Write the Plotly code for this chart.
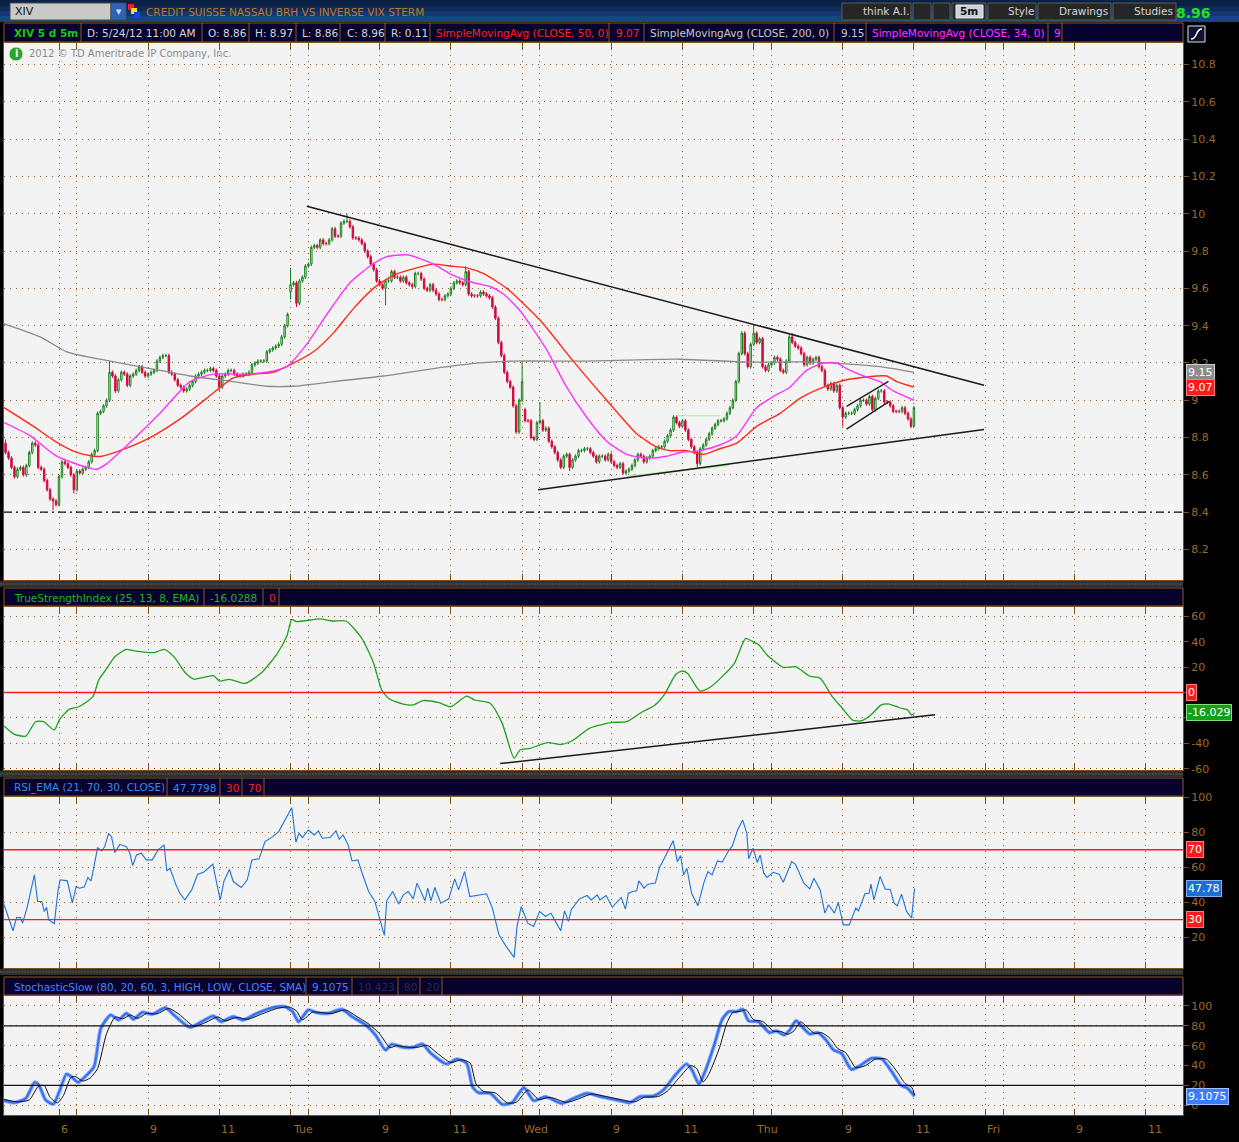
import plotly.graph_objects as go

W, H = 1239, 1142
FONT = "DejaVu Sans"

# 5-minute bars, bar 0 = Monday session open, 78 bars per session
first_bar = -18
bar_open = [
    8.77, 8.72, 8.69, 8.64, 8.59, 8.63, 8.64, 8.60, 8.65, 8.72,
    8.77, 8.76, 8.64, 8.63, 8.57, 8.52, 8.47, 8.46, 8.44, 8.59,
    8.67, 8.66, 8.64, 8.60, 8.52, 8.62, 8.61, 8.63, 8.64, 8.67,
    8.71, 8.73, 8.93, 8.94, 8.97, 9.00, 9.15, 9.13, 9.05, 9.11,
    9.15, 9.14, 9.08, 9.13, 9.14, 9.16, 9.18, 9.15, 9.13, 9.14,
    9.15, 9.16, 9.21, 9.23, 9.24, 9.24, 9.15, 9.14, 9.11, 9.08,
    9.07, 9.05, 9.06, 9.08, 9.10, 9.13, 9.14, 9.15, 9.16, 9.16,
    9.17, 9.16, 9.13, 9.07, 9.13, 9.14, 9.16, 9.16, 9.14, 9.13,
    9.13, 9.14, 9.14, 9.15, 9.19, 9.20, 9.21, 9.21, 9.21, 9.26,
    9.27, 9.28, 9.29, 9.30, 9.34, 9.40, 9.58, 9.62, 9.63, 9.52,
    9.64, 9.66, 9.72, 9.73, 9.82, 9.83, 9.82, 9.86, 9.84, 9.84,
    9.86, 9.92, 9.88, 9.88, 9.95, 9.96, 9.96, 9.93, 9.87, 9.87,
    9.86, 9.84, 9.80, 9.77, 9.73, 9.70, 9.64, 9.62, 9.60, 9.64,
    9.64, 9.69, 9.66, 9.66, 9.64, 9.66, 9.63, 9.62, 9.61, 9.68,
    9.68, 9.65, 9.60, 9.59, 9.62, 9.59, 9.57, 9.54, 9.54, 9.56,
    9.57, 9.60, 9.63, 9.64, 9.63, 9.62, 9.69, 9.57, 9.56, 9.56,
    9.56, 9.58, 9.57, 9.56, 9.55, 9.50, 9.44, 9.31, 9.24, 9.15,
    9.10, 9.07, 8.97, 8.83, 9.00, 8.95, 8.89, 8.89, 8.80, 8.79,
    8.88, 8.89, 8.84, 8.85, 8.78, 8.75, 8.72, 8.68, 8.64, 8.70,
    8.71, 8.64, 8.68, 8.70, 8.73, 8.73, 8.74, 8.74, 8.72, 8.70,
    8.67, 8.70, 8.70, 8.68, 8.71, 8.67, 8.65, 8.64, 8.66, 8.61,
    8.62, 8.63, 8.65, 8.68, 8.71, 8.70, 8.67, 8.69, 8.70, 8.73,
    8.74, 8.75, 8.75, 8.78, 8.81, 8.84, 8.91, 8.88, 8.86, 8.89,
    8.84, 8.79, 8.75, 8.72, 8.66, 8.74, 8.76, 8.79, 8.82, 8.85,
    8.87, 8.89, 8.89, 8.90, 8.93, 8.96, 9.00, 9.10, 9.25, 9.36,
    9.25, 9.18, 9.30, 9.36, 9.31, 9.33, 9.18, 9.16, 9.19, 9.20,
    9.23, 9.22, 9.16, 9.15, 9.21, 9.34, 9.31, 9.29, 9.28, 9.25,
    9.19, 9.23, 9.20, 9.22, 9.23, 9.18, 9.16, 9.08, 9.06, 9.09,
    9.05, 9.08, 8.96, 8.91, 8.93, 8.93, 8.93, 8.95, 8.97, 9.00,
    9.00, 8.98, 9.02, 8.95, 9.01, 9.05, 9.05, 8.99, 8.99, 8.97,
    8.94, 8.94, 8.94, 8.96, 8.93, 8.90, 8.86,
]
bar_close = [
    8.72, 8.69, 8.64, 8.59, 8.63, 8.64, 8.60, 8.65, 8.72, 8.77,
    8.76, 8.64, 8.63, 8.57, 8.52, 8.47, 8.46, 8.44, 8.59, 8.67,
    8.66, 8.64, 8.60, 8.52, 8.62, 8.61, 8.63, 8.64, 8.67, 8.71,
    8.73, 8.93, 8.94, 8.97, 9.00, 9.15, 9.13, 9.05, 9.11, 9.15,
    9.14, 9.08, 9.13, 9.14, 9.16, 9.18, 9.15, 9.13, 9.14, 9.15,
    9.16, 9.21, 9.23, 9.24, 9.24, 9.15, 9.14, 9.11, 9.08, 9.07,
    9.05, 9.06, 9.08, 9.10, 9.13, 9.14, 9.15, 9.16, 9.16, 9.17,
    9.16, 9.13, 9.07, 9.13, 9.14, 9.16, 9.16, 9.14, 9.13, 9.13,
    9.14, 9.14, 9.15, 9.19, 9.20, 9.21, 9.21, 9.21, 9.26, 9.27,
    9.28, 9.29, 9.30, 9.34, 9.40, 9.46, 9.62, 9.63, 9.52, 9.64,
    9.66, 9.72, 9.73, 9.82, 9.83, 9.82, 9.86, 9.84, 9.84, 9.86,
    9.92, 9.88, 9.88, 9.95, 9.96, 9.96, 9.93, 9.87, 9.87, 9.86,
    9.84, 9.80, 9.77, 9.73, 9.70, 9.64, 9.62, 9.60, 9.64, 9.64,
    9.69, 9.66, 9.66, 9.64, 9.66, 9.63, 9.62, 9.61, 9.68, 9.68,
    9.65, 9.60, 9.59, 9.62, 9.59, 9.57, 9.54, 9.54, 9.56, 9.57,
    9.60, 9.63, 9.64, 9.63, 9.62, 9.69, 9.57, 9.56, 9.56, 9.56,
    9.58, 9.57, 9.56, 9.55, 9.50, 9.44, 9.31, 9.24, 9.15, 9.10,
    9.07, 8.97, 8.83, 9.00, 9.10, 8.89, 8.89, 8.80, 8.79, 8.88,
    8.89, 8.84, 8.85, 8.78, 8.75, 8.72, 8.68, 8.64, 8.70, 8.71,
    8.64, 8.68, 8.70, 8.73, 8.73, 8.74, 8.74, 8.72, 8.70, 8.67,
    8.70, 8.70, 8.68, 8.71, 8.67, 8.65, 8.64, 8.66, 8.61, 8.62,
    8.63, 8.65, 8.68, 8.71, 8.70, 8.67, 8.69, 8.70, 8.73, 8.74,
    8.75, 8.75, 8.78, 8.81, 8.84, 8.91, 8.88, 8.86, 8.89, 8.84,
    8.79, 8.75, 8.72, 8.66, 8.74, 8.76, 8.79, 8.82, 8.85, 8.87,
    8.89, 8.89, 8.90, 8.93, 8.96, 9.00, 9.10, 9.25, 9.36, 9.25,
    9.18, 9.30, 9.36, 9.31, 9.33, 9.18, 9.16, 9.19, 9.20, 9.23,
    9.22, 9.16, 9.15, 9.21, 9.34, 9.31, 9.29, 9.28, 9.25, 9.19,
    9.23, 9.20, 9.22, 9.23, 9.18, 9.16, 9.08, 9.06, 9.09, 9.05,
    9.08, 8.96, 8.91, 8.93, 8.93, 8.93, 8.95, 8.97, 9.00, 9.00,
    8.98, 9.02, 8.95, 9.01, 9.05, 9.05, 8.99, 8.99, 8.97, 8.94,
    8.94, 8.94, 8.96, 8.93, 8.90, 8.86, 8.96,
]
# wick length beyond the body, in cents
wick_up = [
    2, 1, 1, 1, 1, 1, 1, 1, 1, 1,
    1, 1, 1, 1, 1, 1, 1, 1, 1, 1,
    1, 1, 1, 1, 1, 1, 1, 1, 1, 1,
    1, 1, 1, 1, 1, 6, 1, 1, 1, 1,
    1, 1, 1, 1, 1, 1, 1, 1, 1, 1,
    1, 1, 1, 1, 1, 1, 1, 1, 1, 1,
    1, 1, 1, 1, 1, 1, 1, 1, 1, 1,
    1, 1, 1, 1, 1, 1, 1, 1, 1, 1,
    1, 1, 1, 1, 1, 1, 1, 1, 1, 1,
    1, 1, 1, 1, 1, 1, 9, 1, 1, 1,
    1, 1, 1, 1, 1, 1, 1, 1, 1, 1,
    1, 1, 1, 1, 1, 4, 1, 1, 1, 1,
    1, 1, 1, 1, 1, 1, 1, 1, 1, 1,
    1, 1, 1, 1, 1, 1, 1, 1, 1, 1,
    1, 1, 1, 1, 1, 1, 1, 1, 1, 1,
    1, 1, 1, 1, 1, 3, 1, 1, 1, 1,
    1, 1, 1, 1, 1, 1, 1, 1, 1, 1,
    1, 1, 1, 1, 11, 1, 1, 1, 1, 1,
    10, 1, 1, 1, 1, 1, 1, 1, 1, 1,
    1, 1, 1, 1, 1, 1, 1, 1, 1, 1,
    1, 1, 1, 1, 1, 1, 1, 1, 1, 1,
    1, 1, 1, 1, 1, 1, 1, 1, 1, 1,
    1, 1, 1, 1, 1, 1, 1, 1, 1, 1,
    1, 1, 1, 1, 1, 1, 1, 1, 1, 1,
    1, 1, 1, 1, 1, 1, 1, 1, 1, 1,
    1, 1, 4, 1, 1, 1, 1, 1, 1, 1,
    1, 1, 1, 1, 1, 2, 1, 1, 1, 1,
    1, 1, 1, 1, 1, 1, 1, 1, 1, 1,
    1, 1, 1, 1, 1, 1, 1, 1, 1, 1,
    1, 1, 1, 1, 1, 1, 1, 1, 1, 1,
    1, 1, 1, 1, 1, 1, 1,
]
wick_dn = [
    1, 1, 1, 1, 1, 1, 1, 1, 1, 1,
    1, 1, 1, 1, 1, 1, 5, 1, 1, 1,
    1, 1, 1, 2, 1, 1, 1, 1, 1, 1,
    1, 1, 1, 1, 1, 1, 1, 1, 1, 1,
    1, 1, 1, 1, 1, 1, 1, 1, 1, 1,
    1, 1, 1, 1, 1, 1, 1, 1, 1, 1,
    1, 1, 1, 1, 1, 1, 1, 1, 1, 1,
    1, 1, 2, 1, 1, 1, 1, 1, 1, 1,
    1, 1, 1, 1, 1, 1, 1, 1, 1, 1,
    1, 1, 1, 1, 1, 1, 4, 1, 2, 1,
    1, 1, 1, 1, 1, 1, 1, 1, 1, 1,
    1, 1, 1, 1, 1, 1, 1, 1, 1, 1,
    1, 1, 1, 1, 1, 1, 1, 1, 9, 1,
    1, 1, 1, 1, 1, 1, 1, 1, 1, 1,
    1, 1, 1, 1, 1, 1, 1, 1, 1, 1,
    1, 1, 1, 1, 1, 1, 1, 1, 1, 1,
    1, 1, 1, 1, 1, 1, 1, 1, 1, 1,
    1, 1, 1, 1, 1, 1, 1, 1, 1, 1,
    1, 1, 1, 1, 1, 1, 1, 1, 1, 1,
    2, 1, 1, 1, 1, 1, 1, 1, 1, 1,
    1, 1, 1, 1, 1, 1, 1, 1, 1, 1,
    1, 1, 1, 1, 1, 1, 1, 1, 1, 1,
    1, 1, 1, 1, 1, 1, 1, 1, 1, 1,
    1, 1, 1, 2, 1, 1, 1, 1, 1, 1,
    1, 1, 1, 1, 1, 1, 1, 1, 1, 1,
    1, 1, 1, 1, 1, 1, 1, 1, 1, 1,
    1, 1, 1, 1, 1, 1, 1, 1, 1, 1,
    1, 1, 1, 1, 1, 1, 1, 1, 1, 1,
    1, 1, 5, 1, 1, 1, 1, 1, 1, 1,
    1, 1, 1, 1, 1, 1, 1, 1, 1, 1,
    1, 1, 1, 1, 1, 1, 0,
]

# moving averages (bar, value)
sma50_bar = [-18.5, -8.6, -1.3, 6, 11.6, 14.4, 20.5, 30.7, 40.8, 49.7,
             58.7, 65.5, 72.2, 77.8, 85.7, 92.4, 99.1, 105.9, 112.6, 120.5,
             126.1, 131.7, 137.3, 142.9, 150.8, 162, 173.2, 184.5, 194.6, 201.3,
             205.8, 211.4, 217, 222.6, 228.3, 235, 242.9, 249.6, 257.5, 265.3,
             275.4, 278.8, 282.2, 288]
sma50 = [8.96, 8.86, 8.78, 8.72, 8.70, 8.70, 8.73, 8.80, 8.90, 9.01,
         9.12, 9.14, 9.15, 9.19, 9.26, 9.36, 9.49, 9.60, 9.67, 9.71,
         9.73, 9.72, 9.71, 9.68, 9.60, 9.43, 9.21, 9.00, 8.82, 8.75,
         8.73, 8.73, 8.71, 8.74, 8.77, 8.86, 8.93, 9.01, 9.07, 9.11,
         9.13, 9.13, 9.10, 9.07]
sma34_bar = [-18.5, -9.8, -0.8, 9.3, 12.7, 16.1, 25, 34, 44.1, 52,
             61, 70, 76.7, 83.4, 90.2, 98, 104.8, 110.4, 117.1, 121.6,
             126.1, 132.8, 139.6, 145.2, 149.7, 155.3, 164.3, 171, 177.7, 184.5,
             191.2, 197.9, 204.7, 209.2, 215.9, 222.6, 228.3, 235, 240.6, 246.2,
             251.8, 257.5, 261.9, 265.3, 271, 276.5, 281, 288]
sma34 = [8.88, 8.81, 8.70, 8.64, 8.63, 8.66, 8.79, 8.93, 9.10, 9.14,
         9.14, 9.15, 9.18, 9.30, 9.46, 9.63, 9.72, 9.77, 9.78, 9.76,
         9.73, 9.67, 9.63, 9.61, 9.57, 9.48, 9.27, 9.07, 8.91, 8.78,
         8.71, 8.69, 8.70, 8.72, 8.73, 8.76, 8.81, 8.96, 9.02, 9.07,
         9.16, 9.20, 9.20, 9.17, 9.13, 9.10, 9.05, 9.00]
sma200_bar = [-18.5, -6.4, 2.6, 17.2, 30.7, 44.1, 58.7, 70, 78.9, 92.4,
              109.3, 126.1, 141.8, 153, 175.5, 209.2, 231.6, 254.1, 265.3, 276.5, 288]
sma200 = [9.41, 9.34, 9.26, 9.21, 9.17, 9.13, 9.10, 9.075, 9.075, 9.10,
          9.13, 9.17, 9.20, 9.21, 9.21, 9.22, 9.205, 9.205, 9.195, 9.18, 9.15]

# drawings on the price panel
upper_trend_bar = [83.5, 311.6]
upper_trend = [10.04, 9.08]
lower_trend_bar = [161.4, 311.6]
lower_trend = [8.52, 8.843]
flag_top_bar = [265.3, 279.4]
flag_top = [8.967, 9.101]
flag_bottom_bar = [265.3, 279.7]
flag_bottom = [8.845, 8.994]
green_level_bar = [208, 222.7]
green_level = [8.917, 8.917]
green_support_bar = [191.2, 225.5]
green_support = [8.59, 8.653]
alert_price = 8.4

# True Strength Index
tsi_bar = [-18.5, -15.2, -11.2, -7.9, -5.2, -1.6, 0.1, 3.4, 6.7, 11.4,
           13.4, 16.1, 18.8, 22.7, 25.4, 32.1, 35.4, 38.7, 42.7, 45.4,
           52, 54.1, 57.4, 62.7, 68, 73.4, 76.7, 78.4, 80, 88,
           92, 96.7, 102, 106, 108.7, 111.3, 116, 119.3, 122.6, 128,
           132, 137.3, 140, 145.3, 149.3, 153.3, 155.3, 158.6, 164.6, 169.3,
           173.3, 178.6, 182.2, 186.4, 191.2, 196, 200.8, 204.2, 207.6, 209.7,
           211.7, 215.9, 219.3, 223.4, 227.5, 231.3, 233.7, 235.8, 238.5, 244,
           248.1, 252.9, 256.4, 260.5, 263.9, 267.3, 270.1, 273.5, 277, 279.7,
           283.1, 285.9, 287.2, 288.2]
tsi = [-26.4, -32.7, -34.3, -23, -23, -29.5, -21.6, -13.3, -11.2, -3.3,
       9.9, 19, 28.2, 34, 32.7, 31.4, 34, 28.2, 15.1, 10.6,
       13.3, 9, 10.4, 7.2, 15.1, 30.3, 44, 57.6, 55.8, 57.9,
       56.3, 56.3, 42.6, 22.9, 2, -5.1, -9.1, -9.8, -6.4, -8,
       -11.2, -2.8, -5.9, -8.6, -24.3, -51.8, -45.3, -44, -39.5, -40.9,
       -37.4, -28.2, -25.6, -23.5, -23, -15.9, -9.8, -0.7, 13.8, 16.9,
       15.1, 1.2, 4.1, 12.5, 23, 42.6, 40, 37.4, 29.5, 19.8,
       20.3, 12.9, 11.2, -3.3, -12.5, -21.7, -22.4, -17.7, -9.8, -9.1,
       -12, -13.8, -17.7, -16.0288]
tsi_trend_bar = [148.6, 295.1]
tsi_trend = [-55.9, -17.6]

# RSI_EMA(21)
rsi_bar = [-18.5, -15.5, -14.3, -13, -12.3, -10.8, -8.3, -7.2, -5.8, -5,
           -4.2, -3.5, -1.6, -0.3, 0.4, 2.8, 4.5, 5.8, 6.8, 8.5,
           9.7, 10.8, 11.7, 13, 14.4, 15.4, 16.7, 17.7, 18.8, 20.5,
           22.7, 23.8, 24.8, 26.1, 27.7, 29.4, 31.4, 33.4, 35.4, 36.3,
           37.4, 39.4, 40.7, 42.4, 44.7, 46.7, 48.7, 51.8, 54.3, 55.6,
           57.4, 58.7, 61.4, 63.4, 65, 67.4, 69.4, 72, 74, 76,
           78.4, 79.8, 80.8, 82, 84, 86, 87.4, 88.7, 91.3, 93.3,
           94.4, 95.7, 97.4, 98.7, 100.7, 102, 104.3, 106.4, 108, 109.6,
           110.4, 112.4, 114.4, 116, 117.6, 119.3, 120.6, 123.3, 124.2, 125.3,
           126.6, 128.6, 131.3, 133.3, 134.6, 136.6, 138.4, 141.3, 144, 146,
           148.2, 150.6, 153.3, 154.3, 155.7, 157.9, 159.9, 161.9, 163.9, 165.7,
           169, 170.3, 171.6, 172.6, 175.3, 177.9, 179.3, 181.3, 182.2, 184.3,
           186.4, 187.8, 189.4, 190.8, 191.8, 193.2, 194.6, 195.3, 197.1, 198.4,
           200.1, 200.9, 202.2, 203.5, 204.9, 206.9, 208.3, 209.4, 210.4, 211.5,
           213.1, 215.2, 217.2, 218.6, 220, 221.8, 223.4, 225.5, 226.8, 228.6,
           230.3, 231.7, 232.3, 233.8, 235.2, 236.2, 237.4, 238.5, 240.6, 242.6,
           244, 246.8, 248.1, 250.9, 252.9, 254.3, 256.4, 258, 259.2, 261.2,
           262.5, 264.2, 266.2, 268.4, 269.3, 271.5, 272.9, 273.5, 274.5, 276.6,
           278.3, 280, 281.3, 282.4, 283.8, 285.5, 287.2, 288.2]
rsi = [38.5, 23.6, 31.2, 31.2, 28, 36.6, 55.6, 40.4, 40.4, 34.7,
       37, 29.9, 27.6, 47, 52.8, 52.2, 39.6, 49, 48, 48.6,
       54.1, 52.2, 59.8, 71.2, 69.3, 71.8, 79.4, 77.5, 68.4, 73.1,
       71.8, 68.4, 61, 67, 68, 64.2, 64.2, 69.9, 72.8, 57.9,
       59.4, 49.9, 45.1, 41.3, 47, 56, 57.1, 61.7, 41.3, 52.2,
       58.7, 51.8, 48.4, 52.8, 64.2, 64.8, 74.7, 77.5, 80.4, 87,
       94.1, 74.3, 79.4, 77, 81.3, 78.5, 80.8, 76.6, 77, 80.8,
       76, 78.5, 72.8, 63.6, 64.2, 57.1, 46.1, 40.4, 30.9, 21,
       40.8, 46.1, 38.9, 44.2, 46.1, 41.9, 50.9, 40.8, 48, 40.8,
       48.4, 39.4, 41.9, 53.3, 47, 57.5, 43.2, 44.2, 44.8, 36.6,
       21.3, 14.7, 8.4, 26.1, 37.5, 28, 26.1, 34.7, 31.8, 33.7,
       23.6, 35, 29, 35.8, 41.9, 43.8, 41.3, 44.2, 41.3, 43.8,
       37, 39.8, 42.7, 36, 45.1, 46.1, 46.5, 52.2, 48, 50.3,
       50.9, 50.9, 59.4, 63.6, 69, 75.2, 63.2, 66.7, 55.6, 59.4,
       45.1, 37.9, 50.9, 57.5, 55.6, 63.6, 62.9, 69.3, 72.2, 81.3,
       87, 79.4, 64.8, 70.9, 62.7, 67, 56.6, 54.1, 57.1, 56,
       51.4, 63.2, 61.7, 50.9, 47.6, 53.7, 47, 33.7, 38.5, 33.7,
       39.8, 27, 27, 36.6, 35, 44.8, 45.1, 50.3, 41.3, 54.7,
       47.4, 47.4, 39.4, 37.9, 44.6, 34.7, 30.9, 47.7798]
rsi_levels = [70, 30]

# StochasticSlow %K (blue) and %D (black)
stoch_k_bar = [-18.5, -15.2, -11.2, -8.2, -6.8, -4.5, -1.9, 0.1, 2.5, 4.1,
               6.4, 8.8, 11.8, 14.1, 17.4, 20.1, 22.7, 25.1, 28.1, 31.4,
               35.8, 38.7, 44.1, 48.1, 52, 54.7, 58.7, 62, 66.7, 72,
               76, 78.7, 80.7, 84, 86.7, 90.7, 95.3, 98.7, 103.3, 106.6,
               110, 112, 116, 119.3, 122.4, 125.3, 130.6, 134, 137.3, 139.3,
               141.3, 145.3, 149.3, 152.6, 156.6, 159.9, 163.9, 169.3, 173.3, 177.9,
               182.6, 189, 192.3, 195.6, 200.3, 203.6, 207.6, 211.4, 213.2, 215.6,
               217.6, 220.9, 223.3, 225.6, 228.3, 230.3, 232.3, 235.6, 239.3, 241.6,
               244.2, 246.2, 248.3, 250.3, 252.9, 255.6, 258.2, 260.9, 263.6, 266.9,
               270.2, 273.6, 277.2, 280.9, 283.5, 285.9, 288.2]
stoch_k = [4.7, 2.7, 7, 23.2, 20.5, 5.4, 1.3, 13.8, 31.5, 28.9,
           23.2, 28.9, 38.9, 77.5, 90.9, 85.9, 92.6, 86.6, 93.6, 91.6,
           98.3, 90.9, 78.5, 84.2, 89.9, 84.2, 89.3, 85.9, 92.6, 98.3,
           99.3, 94.3, 84.2, 96, 93.3, 92.6, 96.6, 89.3, 80.9, 70.8,
           55.7, 61.4, 58.4, 58.4, 61.7, 52.3, 41.6, 46.6, 42.3, 18.8,
           12.8, 12.1, 1, 2.7, 17.8, 4.7, 8.7, 2, 7, 12.1,
           8.7, 4.7, 2.7, 8.7, 9.4, 15.4, 30.5, 41.6, 35.6, 21.5,
           33.9, 62.4, 85.9, 94.3, 94.3, 96.6, 84.9, 84.2, 73.2, 74.8,
           70.8, 75.8, 85.2, 79.2, 71.8, 73.2, 66.4, 55.7, 52.3, 36.2,
           40.6, 47.3, 46.6, 32.2, 20.5, 17.1, 9.1075]
stoch_d_bar = [-18.5, -14, -10, -7, -5, -3, -0.5, 1.5, 4, 5.5,
               8, 10.5, 13, 16, 19, 21.5, 24, 26.5, 29.5, 33,
               37, 40.5, 45.5, 49.5, 53.5, 56, 60, 63.5, 68, 73.5,
               77.5, 80, 82, 85.5, 88, 92, 96.5, 100, 104.5, 108,
               111.5, 113.5, 117.5, 121, 124, 127, 132, 135.5, 138.5, 140.5,
               143, 147, 151, 154, 158, 161.5, 165.5, 171, 175, 179.5,
               184, 190.5, 194, 197, 202, 205, 209, 212.8, 214.8, 217,
               219, 222.5, 225, 227, 229.5, 231.5, 234, 237, 240.8, 243,
               245.6, 247.6, 249.8, 251.8, 254.4, 257, 259.7, 262.4, 265, 268.4,
               271.7, 275, 278.7, 282.4, 285, 287.3, 288.2]
stoch_d = [6, 3.5, 5.5, 19, 20, 8, 2.5, 10, 28, 29,
           24.5, 27.5, 37, 72, 89, 87, 91, 87.5, 92.5, 92,
           97.5, 91.5, 79.5, 83.5, 89, 85, 88.5, 86.5, 91.5, 97.5,
           99, 95, 86, 94, 93.5, 92.5, 96, 90, 81.5, 72,
           58, 60, 58.5, 58.5, 60.5, 53.5, 43, 46, 42.5, 21.5,
           14, 12.5, 2.5, 3, 15.5, 6, 8, 3, 6.5, 11.5,
           9, 5, 3.5, 8, 9, 14.5, 28, 40, 37, 23.5,
           32, 58, 83, 93.5, 94.5, 96, 86, 84.5, 74.5, 74.5,
           71.5, 75, 84, 79.5, 72.5, 73, 67.5, 57, 53, 38,
           40, 46.5, 46.5, 33.5, 22, 18, 10.423]
stoch_levels = [80, 20]

# time axis
grid_bars = [0, 6, 30, 54, 78, 84, 108, 132, 156, 162, 186, 210,
             234, 240, 264, 288, 312, 318, 342, 366]
label_bars = [0, 30, 54, 78, 108, 132, 156, 186, 210, 234, 264, 288, 312, 342, 366]
label_text = ["6", "9", "11", "Tue", "9", "11", "Wed", "9", "11", "Thu",
              "9", "11", "Fri", "9", "11"]
price_ticks = [8.2, 8.4, 8.6, 8.8, 9.0, 9.2, 9.4, 9.6, 9.8, 10.0, 10.2, 10.4, 10.6, 10.8]
tsi_ticks = [-60, -40, -20, 0, 20, 40, 60]
tsi_tick_text = ["-60", "-40", "", "", "20", "40", "60"]   # 0 and -20 sit under badges
rsi_ticks = [20, 40, 60, 80, 100]
stoch_ticks = [0, 20, 40, 60, 80, 100]

bars = list(range(first_bar, first_bar + len(bar_close)))
bar_high = [max(o, c) + u / 100 for o, c, u in zip(bar_open, bar_close, wick_up)]
bar_low = [min(o, c) - d / 100 for o, c, d in zip(bar_open, bar_close, wick_dn)]


def px_x(x):
    return x / W


def px_y(y):
    return 1 - y / H


shapes = []
annotations = []


def box(x0, y0, x1, y1, fill, line=None, width=1):
    shapes.append(dict(type="rect", xref="paper", yref="paper",
                       x0=px_x(x0), x1=px_x(x1), y0=px_y(y1), y1=px_y(y0),
                       fillcolor=fill, layer="above",
                       line=dict(color=line or fill, width=width if line else 0)))


def text(x, y, s, color, size=10.5, bold=False, anchor="left", family=FONT):
    annotations.append(dict(xref="paper", yref="paper", x=px_x(x), y=px_y(y),
                            text=f"<b>{s}</b>" if bold else s, showarrow=False,
                            xanchor=anchor, yanchor="middle",
                            font=dict(color=color, size=size, family=family)))


def badge(yref, value, s, fill, edge):
    annotations.append(dict(xref="paper", yref=yref, x=px_x(1186), y=value,
                            text=s, showarrow=False, xanchor="left", yanchor="middle",
                            bgcolor=fill, bordercolor=edge, borderwidth=1, borderpad=1,
                            font=dict(color="white", size=11, family=FONT)))


def hline(yref, value, color, dash="solid", width=1):
    shapes.append(dict(type="line", xref="x domain", yref=yref, x0=0, x1=1,
                       y0=value, y1=value, layer="above",
                       line=dict(color=color, width=width, dash=dash)))


def header(y0, y1, seps, items):
    box(4, y0, 1183, y1, "#07012e", "#8b5a1e")
    for s in seps:
        shapes.append(dict(type="line", xref="paper", yref="paper",
                           x0=px_x(s), x1=px_x(s), y0=px_y(y0), y1=px_y(y1),
                           line=dict(color="#8b5a1e", width=1)))
    for x, s, color, bold in items:
        text(x, (y0 + y1) / 2 + 0.5, s, color, bold=bold)


fig = go.Figure()

fig.add_trace(go.Candlestick(
    x=bars, open=bar_open, high=bar_high, low=bar_low, close=bar_close,
    increasing=dict(line=dict(color="#16801a", width=1), fillcolor="#f3f3f3"),
    decreasing=dict(line=dict(color="#cf0c3e", width=1), fillcolor="#cf0c3e"),
    whiskerwidth=0, xaxis="x", yaxis="y"))


def line(xs, ys, color, width=1.3, axis=("x", "y"), shape="linear"):
    fig.add_trace(go.Scatter(x=xs, y=ys, mode="lines", xaxis=axis[0], yaxis=axis[1],
                             line=dict(color=color, width=width, shape=shape,
                                       smoothing=0.6 if shape == "spline" else None)))


line(sma200_bar, sma200, "#8a8a8a", 1.3, shape="spline")
line(sma50_bar, sma50, "#ff2a1a", 1.4, shape="spline")
line(sma34_bar, sma34, "#ff33ff", 1.4, shape="spline")
line(green_level_bar, green_level, "#a8f0a0", 1.2)
line(green_support_bar, green_support, "#a8f0a0", 2)
line(upper_trend_bar, upper_trend, "#1a1a1a", 1.5)
line(lower_trend_bar, lower_trend, "#1a1a1a", 1.5)
line(flag_top_bar, flag_top, "#1a1a1a", 1.3)
line(flag_bottom_bar, flag_bottom, "#1a1a1a", 1.3)

line(tsi_bar, tsi, "#20a020", 1.3, ("x2", "y2"), "spline")
line(tsi_trend_bar, tsi_trend, "#1a1a1a", 1.5, ("x2", "y2"))

line(rsi_bar, rsi, "#1f72d8", 1.1, ("x3", "y3"))

line(stoch_k_bar, stoch_k, "#8fb4ff", 4, ("x4", "y4"), "spline")
line(stoch_k_bar, stoch_k, "#3a6ff0", 2.2, ("x4", "y4"), "spline")
line(stoch_d_bar, stoch_d, "#111111", 1, ("x4", "y4"), "spline")

# reference lines
hline("y", alert_price, "#111111", "8px,4px,2px,4px", 1.3)
hline("y2", 0, "#ff1a1a", "solid", 1.3)
for lv in rsi_levels:
    hline("y3", lv, "#ff1a1a", "solid", 1.3)
for lv in stoch_levels:
    hline("y4", lv, "#111111", "solid", 1.3)

BROWN = "#7b4f1d"
GRID = "#8a5a24"
TICK = "#9c6a2a"
x_view = [-18.53, 378.63]
x_dom = [px_x(4), px_x(1183)]

xstyle = dict(range=x_view, domain=x_dom, tickvals=grid_bars, showticklabels=False,
              ticks="inside", ticklen=6, tickcolor=BROWN, showgrid=True,
              gridcolor=GRID, griddash="1px,5px", gridwidth=1, showline=True,
              linecolor=BROWN, linewidth=1, mirror="ticks", zeroline=False,
              fixedrange=True, automargin=False)
ystyle = dict(side="right", ticks="outside", ticklen=5, tickcolor=BROWN,
              tickfont=dict(color=TICK, size=11, family=FONT), showgrid=True,
              gridcolor=GRID, griddash="1px,5px", gridwidth=1, showline=True,
              linecolor=BROWN, linewidth=1, mirror=True, zeroline=False,
              fixedrange=True, automargin=False)

fig.update_layout(
    xaxis=dict(xstyle, anchor="y", rangeslider=dict(visible=False)),
    xaxis2=dict(xstyle, anchor="y2"),
    xaxis3=dict(xstyle, anchor="y3"),
    xaxis4=dict(xstyle, anchor="y4"),
    yaxis=dict(ystyle, anchor="x", domain=[px_y(580), px_y(43)], range=[8.036, 10.916],
               tickvals=price_ticks, ticktext=[f"{v:g}" for v in price_ticks]),
    yaxis2=dict(ystyle, anchor="x2", domain=[px_y(770), px_y(607)], range=[-61, 67.3],
                tickvals=tsi_ticks, ticktext=tsi_tick_text),
    yaxis3=dict(ystyle, anchor="x3", domain=[px_y(968), px_y(797)], range=[2.3, 100.2],
                tickvals=rsi_ticks),
    yaxis4=dict(ystyle, anchor="x4", domain=[px_y(1115), px_y(996)], range=[-9.7, 110],
                tickvals=stoch_ticks),
)

# toolbar
for y0, y1, c in [(0, 6, "#0b2146"), (6, 11, "#0f2b5a"), (11, 16, "#13376e"), (16, 22, "#184482")]:
    box(0, y0, W, y1, c)
box(10, 3, 111, 20, "#c9c9c9", "#4a4a4a")
box(111, 3, 126, 20, "#2d63b8", "#4a4a4a")
text(13, 12, "XIV", "#111111", 11)
text(118.5, 12, "▼", "#cfe0ff", 7, anchor="center")
box(128, 4, 134, 10, "#ff1a1a")
box(131, 8, 137, 14, "#f0e020")
box(134, 12, 140, 18, "#1a3aff")
text(144, 12, "CREDIT SUISSE NASSAU BRH VS INVERSE VIX STERM", "#c07a1a", 10.5)
for x0, x1, s, tx in [(842, 911, "think A.I.", 861), (913, 931, "", 0), (933, 950, "", 0),
                      (988, 1036, "Style", 1006), (1038, 1111, "Drawings", 1057),
                      (1113, 1176, "Studies", 1132)]:
    box(x0, 3, x1, 20, "#262626", "#5c5c5c")
    if s:
        text(tx, 11.5, s, "#d6d6d6", 10.5)
box(952, 3, 986, 20, "#262626", "#5c5c5c")
box(956, 5, 983, 18, "#c9d1da", "#e8eef4")
text(969.5, 11.5, "5m", "#111111", 10.5, bold=True, anchor="center")
text(1193, 12.5, "8.96", "#22e022", 14, bold=True, anchor="center")

# price panel header
header(23, 42, [81, 202, 249, 296, 340, 385, 430, 609, 644, 834, 866, 1048, 1062], [
    (12, "XIV 5 d 5m", "#19c819", True),
    (85, "D: 5/24/12 11:00 AM", "#d6d6d6", False),
    (206, f"O: {bar_open[-1]:.2f}", "#d6d6d6", False),
    (253, f"H: {bar_high[-1]:.2f}", "#d6d6d6", False),
    (300, f"L: {bar_low[-1]:.2f}", "#d6d6d6", False),
    (345, f"C: {bar_close[-1]:.2f}", "#d6d6d6", False),
    (389, f"R: {bar_high[-1] - bar_low[-1]:.2f}", "#d6d6d6", False),
    (434, "SimpleMovingAvg (CLOSE, 50, 0)", "#ff2020", False),
    (614, f"{sma50[-1]:.2f}", "#ff2020", False),
    (648, "SimpleMovingAvg (CLOSE, 200, 0)", "#c8c8c8", False),
    (839, f"{sma200[-1]:.2f}", "#c8c8c8", False),
    (870, "SimpleMovingAvg (CLOSE, 34, 0)", "#ff33ff", False),
    (1052, f"{sma34[-1]:g}", "#ff33ff", False),
])
box(1188, 26, 1205, 42, "#0c1230", "#e0e0e0")
shapes.append(dict(type="path", xref="paper", yref="paper", layer="above",
                   path=f"M {px_x(1191)},{px_y(39)} C {px_x(1198)},{px_y(39)} "
                        f"{px_x(1195)},{px_y(29)} {px_x(1202)},{px_y(29)}",
                   line=dict(color="white", width=1.5)))
shapes.append(dict(type="circle", xref="paper", yref="paper", layer="above",
                   x0=px_x(9), x1=px_x(23), y0=px_y(61), y1=px_y(47),
                   fillcolor="#2aa52a", line=dict(color="#d8f0d8", width=1)))
text(16, 54, "i", "white", 10, bold=True, anchor="center")
text(27, 54, "2012 © TD Ameritrade IP Company, Inc.", "#8a8a8a", 10)

# separators and study headers
for y0, y1 in [(581, 587), (771, 777), (969, 975)]:
    box(0, y0, 1183, y1, "#303030")
    shapes.append(dict(type="line", xref="paper", yref="paper",
                       x0=px_x(0), x1=px_x(1183), y0=px_y((y0 + y1) / 2), y1=px_y((y0 + y1) / 2),
                       line=dict(color="#5a5a5a", width=1, dash="2px,1px")))

header(588, 606, [204, 263, 279], [
    (12, "TrueStrengthIndex (25, 13, 8, EMA)", "#1fb81f", False),
    (208, f"{tsi[-1]:.4f}", "#1fb81f", False),
    (267, "0", "#ff2020", False),
])
header(778, 796, [167, 220, 242, 264], [
    (12, "RSI_EMA (21, 70, 30, CLOSE)", "#3a8ae6", False),
    (171, f"{rsi[-1]:.4f}", "#3a8ae6", False),
    (224, str(rsi_levels[1]), "#ff2020", False),
    (246, str(rsi_levels[0]), "#ff2020", False),
])
header(977, 995, [306, 352, 398, 420, 442], [
    (12, "StochasticSlow (80, 20, 60, 3, HIGH, LOW, CLOSE, SMA)", "#4a82ff", False),
    (310, f"{stoch_k[-1]:.4f}", "#4a82ff", False),
    (356, f"{stoch_d[-1]:.3f}", "#2a2a55", False),
    (402, str(stoch_levels[0]), "#2a2a55", False),
    (424, str(stoch_levels[1]), "#2a2a55", False),
])

# last-value badges on the right scale
badge("y", sma200[-1], f"{sma200[-1]:.2f}", "#8c8c8c", "#d0d0d0")
badge("y", sma50[-1], f"{sma50[-1]:.2f}", "#ff1a1a", "#ff8080")
badge("y2", 0, "0", "#ff1a1a", "#ff8080")
badge("y2", tsi[-1], f"{tsi[-1]:.3f}", "#14a014", "#80e080")
badge("y3", rsi_levels[0], str(rsi_levels[0]), "#ff1a1a", "#ff8080")
badge("y3", rsi[-1], f"{rsi[-1]:.2f}", "#1a6fd6", "#80b0f0")
badge("y3", rsi_levels[1], str(rsi_levels[1]), "#ff1a1a", "#ff8080")
badge("y4", stoch_k[-1], f"{stoch_k[-1]:.4f}", "#3a7bff", "#a0c0ff")

# time labels, left-aligned on their grid line
for b, s in zip(label_bars, label_text):
    annotations.append(dict(xref="x4", yref="paper", x=b, y=px_y(1129), text=s,
                            showarrow=False, xanchor="left", yanchor="middle",
                            font=dict(color=TICK, size=11, family=FONT)))

fig.update_layout(
    width=W, height=H, autosize=False,
    margin=dict(l=0, r=0, t=0, b=0, pad=0),
    paper_bgcolor="black", plot_bgcolor="#f3f3f3",
    showlegend=False, font=dict(family=FONT),
    shapes=shapes, annotations=annotations,
)

# pin the chart to the page corner so nothing around it shifts it
pin_chart = (
    "var d = document.getElementById('{plot_id}');"
    "d.style.position = 'fixed'; d.style.left = '0px'; d.style.top = '0px';"
    "document.body.style.margin = '0'; document.body.style.overflow = 'hidden';"
    "document.body.style.background = 'black';"
)
fig.write_html("out.html", config={"displayModeBar": False}, post_script=pin_chart)
